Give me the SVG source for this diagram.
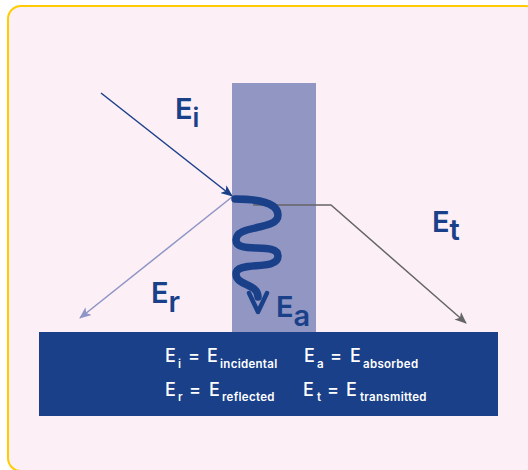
<svg xmlns="http://www.w3.org/2000/svg" width="528" height="470" viewBox="0 0 528 470">
<defs>
<style>
.lbl{font-family:Inter,"Noto Sans","Liberation Sans",sans-serif;font-weight:600;fill:#1A408A;font-size:29px}
.key{font-family:Inter,"Noto Sans","Liberation Sans",sans-serif;font-weight:500;fill:#ffffff;font-size:18px}
.sub{font-family:Inter,"Noto Sans","Liberation Sans",sans-serif;font-weight:600;fill:#ffffff;font-size:11.5px;letter-spacing:0.3px}
</style>
<marker id="ahBlue" viewBox="0 0 12 10" refX="11" refY="5" markerWidth="12" markerHeight="10" markerUnits="userSpaceOnUse" orient="auto"><path d="M0,0 L12,5 L0,10 L3,5 Z" fill="#1A408A"/></marker>
<marker id="ahLight" viewBox="0 0 12 10" refX="11" refY="5" markerWidth="12" markerHeight="10" markerUnits="userSpaceOnUse" orient="auto"><path d="M0,0 L12,5 L0,10 L3,5 Z" fill="#8F95C6"/></marker>
<marker id="ahGray" viewBox="0 0 12 10" refX="11" refY="5" markerWidth="12" markerHeight="10" markerUnits="userSpaceOnUse" orient="auto"><path d="M0,0 L12,5 L0,10 L3,5 Z" fill="#666666"/></marker>
</defs>
<rect x="0" y="0" width="528" height="470" fill="#FFFFFF"/>
<rect x="8" y="6" width="530" height="465" rx="13" fill="#FCEFF6" stroke="#FFCC00" stroke-width="2"/>
<g id="slab"><rect x="232" y="83" width="84" height="250" fill="#9196C3"/></g>
<g id="key">
<rect x="39" y="332" width="459" height="84" fill="#1A408A"/>
<text class="key" x="165" y="362">E</text><text class="sub" x="178" y="368">i</text>
<text class="key" x="188" y="362">=</text>
<text class="key" x="207" y="362">E</text><text class="sub" x="220" y="368">incidental</text>
<text class="key" x="304" y="362">E</text><text class="sub" x="317" y="368">a</text>
<text class="key" x="330" y="362">=</text>
<text class="key" x="350" y="362">E</text><text class="sub" x="363" y="368">absorbed</text>
<text class="key" x="165" y="396">E</text><text class="sub" x="178" y="401">r</text>
<text class="key" x="189" y="396">=</text>
<text class="key" x="209" y="396">E</text><text class="sub" x="222" y="401">reflected</text>
<text class="key" x="303" y="396">E</text><text class="sub" x="317" y="401">t</text>
<text class="key" x="327" y="396">=</text>
<text class="key" x="346" y="396">E</text><text class="sub" x="360" y="401">transmitted</text>
</g>
<g id="connectors" fill="none" stroke-width="1.5">
<line x1="101" y1="93" x2="232" y2="196" stroke="#1A408A" marker-end="url(#ahBlue)"/>
<line x1="232" y1="197" x2="80" y2="318" stroke="#8F95C6" marker-end="url(#ahLight)"/>
<polyline points="253,205 331,205 466,323" stroke="#666666" marker-end="url(#ahGray)"/>
</g>
<g id="absorbed-wave" fill="none" stroke="#1A408A" stroke-linecap="round" stroke-linejoin="round">
<path d="M235,199 C254,199 278,202 278,215 C278,231 236,224 236,240 C236,255 278,241 278,256 C278,272 236,260 236,274 C236,286 258,283 258,297" stroke-width="7.5"/>
<polyline points="249,293 258,312 267,293" stroke-width="4.5"/>
</g>
<g id="labels">
<text class="lbl" x="175" y="119">E<tspan font-size="26" dy="8">i</tspan></text>
<text class="lbl" x="151" y="303">E<tspan dy="9">r</tspan></text>
<text class="lbl" x="276" y="317">E<tspan dy="9">a</tspan></text>
<text class="lbl" x="432" y="232">E<tspan dy="8">t</tspan></text>
</g>
</svg>
